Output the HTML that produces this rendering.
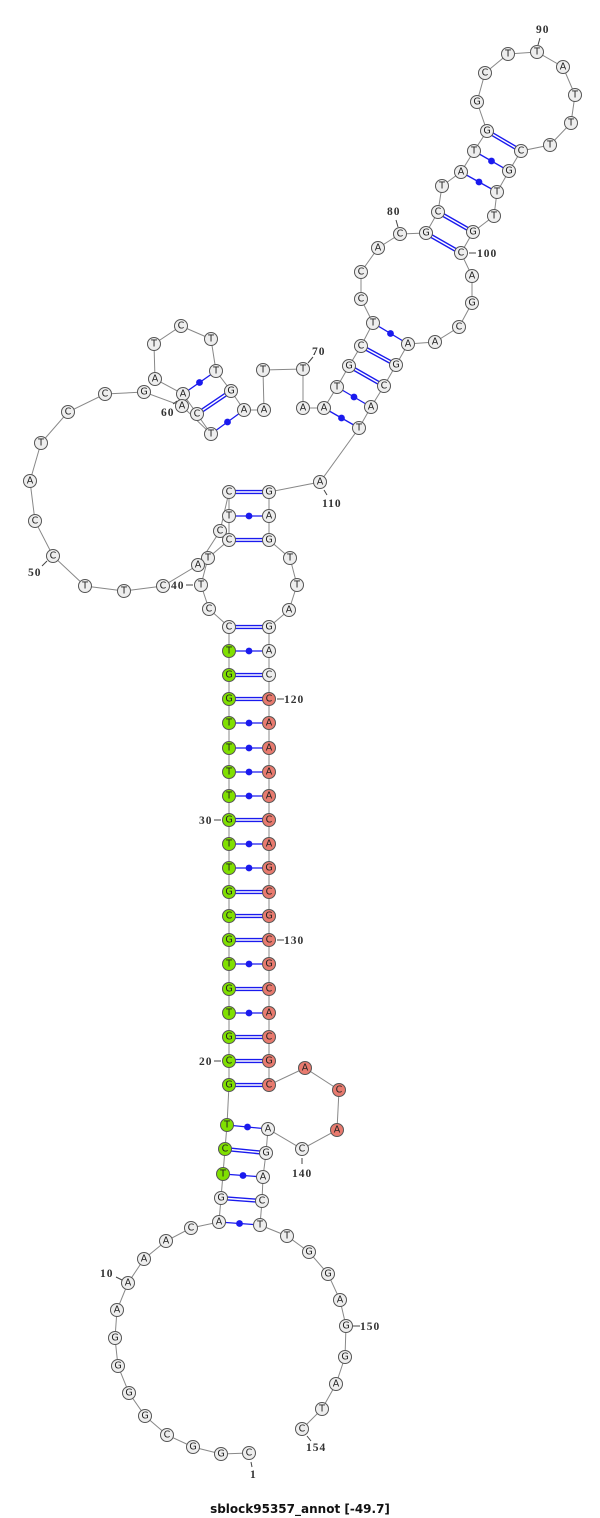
<!DOCTYPE html>
<html><head><meta charset="utf-8"><style>
html,body{margin:0;padding:0;background:#fff;}
svg{display:block}
.n circle{stroke:#555;stroke-width:1}
.n text{font-family:"DejaVu Sans","Liberation Sans",sans-serif;font-size:9.5px;fill:#222;text-anchor:middle;dominant-baseline:central}
.lb{font-family:"Liberation Serif",serif;font-weight:bold;font-size:11.5px;fill:#333;letter-spacing:1px}
</style></head><body>
<svg width="600" height="1518" viewBox="0 0 600 1518" xmlns="http://www.w3.org/2000/svg">
<polyline fill="none" stroke="#888" stroke-width="1" points="249,1453 221,1454 193,1447 167,1435 145,1416 129,1393 118,1366 115,1338 117,1310 128,1283 144,1259 166,1241 191,1228 219,1222 221,1198 223,1174 225,1149 227,1125 229,1085 229,1061 229,1037 229,1013 229,989 229,964 229,940 229,916 229,892 229,868 229,844 229,820 229,796 229,772 229,748 229,723 229,699 229,675 229,651 229,627 209,609 201,585 208,558 229,540 229,516 229,492 220,531 198,565 163,586 124,591 85,586 53,556 35,521 30,481 41,443 68,412 105,394 144,392 182,406 211,434 197,414 183,394 155,379 154,344 181,326 211,339 216,371 231,391 244,410 264,410 263,370 303,369 303,408 324,408 337,387 349,366 361,346 373,323 361,299 361,272 378,248 400,234 426,233 438,212 442,186 461,172 474,151 487,131 477,102 485,73 508,54 537,52 563,67 575,95 571,123 550,145 521,151 509,171 497,192 494,216 473,232 461,253 472,276 472,303 459,327 435,342 408,344 396,365 384,386 371,407 359,428 320,482 269,492 269,516 269,540 290,558 297,585 289,610 269,627 269,651 269,675 269,699 269,723 269,748 269,772 269,796 269,820 269,844 269,868 269,892 269,916 269,940 269,964 269,989 269,1013 269,1037 269,1061 269,1085 305,1068 339,1090 337,1130 302,1149 268,1129 266,1153 263,1177 262,1201 260,1225 287,1236 309,1252 328,1274 340,1300 346,1326 345,1357 336,1384 322,1409 302,1429"/>
<!-- double pairs -->
<g stroke="#1a1aee" stroke-width="4.2">
<line x1="221" y1="1198" x2="262" y2="1201"/><line x1="225" y1="1149" x2="266" y2="1153"/>
<line x1="229" y1="1085" x2="269" y2="1085"/><line x1="229" y1="1061" x2="269" y2="1061"/><line x1="229" y1="1037" x2="269" y2="1037"/><line x1="229" y1="989" x2="269" y2="989"/><line x1="229" y1="940" x2="269" y2="940"/><line x1="229" y1="916" x2="269" y2="916"/><line x1="229" y1="892" x2="269" y2="892"/><line x1="229" y1="820" x2="269" y2="820"/><line x1="229" y1="699" x2="269" y2="699"/><line x1="229" y1="675" x2="269" y2="675"/><line x1="229" y1="627" x2="269" y2="627"/><line x1="229" y1="540" x2="269" y2="540"/><line x1="229" y1="492" x2="269" y2="492"/>
<line x1="197" y1="414" x2="231" y2="391"/><line x1="349" y1="366" x2="384" y2="386"/><line x1="361" y1="346" x2="396" y2="365"/><line x1="426" y1="233" x2="461" y2="253"/><line x1="438" y1="212" x2="473" y2="232"/><line x1="487" y1="131" x2="521" y2="151"/>
</g>
<g stroke="#fff" stroke-width="1.4">
<line x1="221" y1="1198" x2="262" y2="1201"/><line x1="225" y1="1149" x2="266" y2="1153"/>
<line x1="229" y1="1085" x2="269" y2="1085"/><line x1="229" y1="1061" x2="269" y2="1061"/><line x1="229" y1="1037" x2="269" y2="1037"/><line x1="229" y1="989" x2="269" y2="989"/><line x1="229" y1="940" x2="269" y2="940"/><line x1="229" y1="916" x2="269" y2="916"/><line x1="229" y1="892" x2="269" y2="892"/><line x1="229" y1="820" x2="269" y2="820"/><line x1="229" y1="699" x2="269" y2="699"/><line x1="229" y1="675" x2="269" y2="675"/><line x1="229" y1="627" x2="269" y2="627"/><line x1="229" y1="540" x2="269" y2="540"/><line x1="229" y1="492" x2="269" y2="492"/>
<line x1="197" y1="414" x2="231" y2="391"/><line x1="349" y1="366" x2="384" y2="386"/><line x1="361" y1="346" x2="396" y2="365"/><line x1="426" y1="233" x2="461" y2="253"/><line x1="438" y1="212" x2="473" y2="232"/><line x1="487" y1="131" x2="521" y2="151"/>
</g>
<!-- dot pairs -->
<g stroke="#1a1aee" stroke-width="1.3">
<line x1="219" y1="1222" x2="260" y2="1225"/><line x1="223" y1="1174" x2="263" y2="1177"/><line x1="227" y1="1125" x2="268" y2="1129"/>
<line x1="229" y1="1013" x2="269" y2="1013"/><line x1="229" y1="964" x2="269" y2="964"/><line x1="229" y1="868" x2="269" y2="868"/><line x1="229" y1="844" x2="269" y2="844"/><line x1="229" y1="796" x2="269" y2="796"/><line x1="229" y1="772" x2="269" y2="772"/><line x1="229" y1="748" x2="269" y2="748"/><line x1="229" y1="723" x2="269" y2="723"/><line x1="229" y1="651" x2="269" y2="651"/><line x1="229" y1="516" x2="269" y2="516"/>
<line x1="211" y1="434" x2="244" y2="410"/><line x1="183" y1="394" x2="216" y2="371"/><line x1="324" y1="408" x2="359" y2="428"/><line x1="337" y1="387" x2="371" y2="407"/><line x1="373" y1="323" x2="408" y2="344"/><line x1="474" y1="151" x2="509" y2="171"/><line x1="461" y1="172" x2="497" y2="192"/>
</g>
<g fill="#1a1aee">
<circle cx="239.5" cy="1223.5" r="3.4"/><circle cx="243" cy="1175.5" r="3.4"/><circle cx="247.5" cy="1127" r="3.4"/>
<circle cx="249" cy="1013" r="3.4"/><circle cx="249" cy="964" r="3.4"/><circle cx="249" cy="868" r="3.4"/><circle cx="249" cy="844" r="3.4"/><circle cx="249" cy="796" r="3.4"/><circle cx="249" cy="772" r="3.4"/><circle cx="249" cy="748" r="3.4"/><circle cx="249" cy="723" r="3.4"/><circle cx="249" cy="651" r="3.4"/><circle cx="249" cy="516" r="3.4"/>
<circle cx="227.5" cy="422" r="3.4"/><circle cx="199.5" cy="382.5" r="3.4"/><circle cx="341.5" cy="418" r="3.4"/><circle cx="354" cy="397" r="3.4"/><circle cx="390.5" cy="333.5" r="3.4"/><circle cx="491.5" cy="161" r="3.4"/><circle cx="479" cy="182" r="3.4"/>
</g>
<g class="n" fill="#eee">
<g><circle cx="249" cy="1453" r="6.5"/><text x="249" y="1453">C</text></g>
<g><circle cx="221" cy="1454" r="6.5"/><text x="221" y="1454">G</text></g>
<g><circle cx="193" cy="1447" r="6.5"/><text x="193" y="1447">G</text></g>
<g><circle cx="167" cy="1435" r="6.5"/><text x="167" y="1435">C</text></g>
<g><circle cx="145" cy="1416" r="6.5"/><text x="145" y="1416">G</text></g>
<g><circle cx="129" cy="1393" r="6.5"/><text x="129" y="1393">G</text></g>
<g><circle cx="118" cy="1366" r="6.5"/><text x="118" y="1366">G</text></g>
<g><circle cx="115" cy="1338" r="6.5"/><text x="115" y="1338">G</text></g>
<g><circle cx="117" cy="1310" r="6.5"/><text x="117" y="1310">A</text></g>
<g><circle cx="128" cy="1283" r="6.5"/><text x="128" y="1283">A</text></g>
<g><circle cx="144" cy="1259" r="6.5"/><text x="144" y="1259">A</text></g>
<g><circle cx="166" cy="1241" r="6.5"/><text x="166" y="1241">A</text></g>
<g><circle cx="191" cy="1228" r="6.5"/><text x="191" y="1228">C</text></g>
<g><circle cx="219" cy="1222" r="6.5"/><text x="219" y="1222">A</text></g>
<g><circle cx="221" cy="1198" r="6.5"/><text x="221" y="1198">G</text></g>
<g fill="#80e000"><circle cx="223" cy="1174" r="6.5"/><text x="223" y="1174">T</text><circle cx="225" cy="1149" r="6.5"/><text x="225" y="1149">C</text><circle cx="227" cy="1125" r="6.5"/><text x="227" y="1125">T</text>
<circle cx="229" cy="1085" r="6.5"/><text x="229" y="1085">G</text>
<circle cx="229" cy="1061" r="6.5"/><text x="229" y="1061">C</text>
<circle cx="229" cy="1037" r="6.5"/><text x="229" y="1037">G</text>
<circle cx="229" cy="1013" r="6.5"/><text x="229" y="1013">T</text>
<circle cx="229" cy="989" r="6.5"/><text x="229" y="989">G</text>
<circle cx="229" cy="964" r="6.5"/><text x="229" y="964">T</text>
<circle cx="229" cy="940" r="6.5"/><text x="229" y="940">G</text>
<circle cx="229" cy="916" r="6.5"/><text x="229" y="916">C</text>
<circle cx="229" cy="892" r="6.5"/><text x="229" y="892">G</text>
<circle cx="229" cy="868" r="6.5"/><text x="229" y="868">T</text>
<circle cx="229" cy="844" r="6.5"/><text x="229" y="844">T</text>
<circle cx="229" cy="820" r="6.5"/><text x="229" y="820">G</text>
<circle cx="229" cy="796" r="6.5"/><text x="229" y="796">T</text>
<circle cx="229" cy="772" r="6.5"/><text x="229" y="772">T</text>
<circle cx="229" cy="748" r="6.5"/><text x="229" y="748">T</text>
<circle cx="229" cy="723" r="6.5"/><text x="229" y="723">T</text>
<circle cx="229" cy="699" r="6.5"/><text x="229" y="699">G</text>
<circle cx="229" cy="675" r="6.5"/><text x="229" y="675">G</text>
<circle cx="229" cy="651" r="6.5"/><text x="229" y="651">T</text></g>
<g><circle cx="229" cy="627" r="6.5"/><text x="229" y="627">C</text></g>
<g><circle cx="209" cy="609" r="6.5"/><text x="209" y="609">C</text></g>
<g><circle cx="201" cy="585" r="6.5"/><text x="201" y="585">T</text></g>
<g><circle cx="208" cy="558" r="6.5"/><text x="208" y="558">T</text></g>
<g><circle cx="220" cy="531" r="6.5"/><text x="220" y="531">C</text></g>
<g><circle cx="229" cy="540" r="6.5"/><text x="229" y="540">C</text></g>
<g><circle cx="229" cy="516" r="6.5"/><text x="229" y="516">T</text></g>
<g><circle cx="229" cy="492" r="6.5"/><text x="229" y="492">C</text></g>
<g><circle cx="198" cy="565" r="6.5"/><text x="198" y="565">A</text></g>
<g><circle cx="163" cy="586" r="6.5"/><text x="163" y="586">C</text></g>
<g><circle cx="124" cy="591" r="6.5"/><text x="124" y="591">T</text></g>
<g><circle cx="85" cy="586" r="6.5"/><text x="85" y="586">T</text></g>
<g><circle cx="53" cy="556" r="6.5"/><text x="53" y="556">C</text></g>
<g><circle cx="35" cy="521" r="6.5"/><text x="35" y="521">C</text></g>
<g><circle cx="30" cy="481" r="6.5"/><text x="30" y="481">A</text></g>
<g><circle cx="41" cy="443" r="6.5"/><text x="41" y="443">T</text></g>
<g><circle cx="68" cy="412" r="6.5"/><text x="68" y="412">C</text></g>
<g><circle cx="105" cy="394" r="6.5"/><text x="105" y="394">C</text></g>
<g><circle cx="144" cy="392" r="6.5"/><text x="144" y="392">G</text></g>
<g><circle cx="183" cy="394" r="6.5"/><text x="183" y="394">A</text></g>
<g><circle cx="182" cy="406" r="6.5"/><text x="182" y="406">A</text></g>
<g><circle cx="211" cy="434" r="6.5"/><text x="211" y="434">T</text></g>
<g><circle cx="197" cy="414" r="6.5"/><text x="197" y="414">C</text></g>
<g><circle cx="155" cy="379" r="6.5"/><text x="155" y="379">A</text></g>
<g><circle cx="154" cy="344" r="6.5"/><text x="154" y="344">T</text></g>
<g><circle cx="181" cy="326" r="6.5"/><text x="181" y="326">C</text></g>
<g><circle cx="211" cy="339" r="6.5"/><text x="211" y="339">T</text></g>
<g><circle cx="216" cy="371" r="6.5"/><text x="216" y="371">T</text></g>
<g><circle cx="231" cy="391" r="6.5"/><text x="231" y="391">G</text></g>
<g><circle cx="244" cy="410" r="6.5"/><text x="244" y="410">A</text></g>
<g><circle cx="264" cy="410" r="6.5"/><text x="264" y="410">A</text></g>
<g><circle cx="263" cy="370" r="6.5"/><text x="263" y="370">T</text></g>
<g><circle cx="303" cy="369" r="6.5"/><text x="303" y="369">T</text></g>
<g><circle cx="303" cy="408" r="6.5"/><text x="303" y="408">A</text></g>
<g><circle cx="324" cy="408" r="6.5"/><text x="324" y="408">A</text></g>
<g><circle cx="337" cy="387" r="6.5"/><text x="337" y="387">T</text></g>
<g><circle cx="349" cy="366" r="6.5"/><text x="349" y="366">G</text></g>
<g><circle cx="361" cy="346" r="6.5"/><text x="361" y="346">C</text></g>
<g><circle cx="373" cy="323" r="6.5"/><text x="373" y="323">T</text></g>
<g><circle cx="361" cy="299" r="6.5"/><text x="361" y="299">C</text></g>
<g><circle cx="361" cy="272" r="6.5"/><text x="361" y="272">C</text></g>
<g><circle cx="378" cy="248" r="6.5"/><text x="378" y="248">A</text></g>
<g><circle cx="400" cy="234" r="6.5"/><text x="400" y="234">C</text></g>
<g><circle cx="426" cy="233" r="6.5"/><text x="426" y="233">G</text></g>
<g><circle cx="438" cy="212" r="6.5"/><text x="438" y="212">C</text></g>
<g><circle cx="442" cy="186" r="6.5"/><text x="442" y="186">T</text></g>
<g><circle cx="461" cy="172" r="6.5"/><text x="461" y="172">A</text></g>
<g><circle cx="474" cy="151" r="6.5"/><text x="474" y="151">T</text></g>
<g><circle cx="487" cy="131" r="6.5"/><text x="487" y="131">G</text></g>
<g><circle cx="477" cy="102" r="6.5"/><text x="477" y="102">G</text></g>
<g><circle cx="485" cy="73" r="6.5"/><text x="485" y="73">C</text></g>
<g><circle cx="508" cy="54" r="6.5"/><text x="508" y="54">T</text></g>
<g><circle cx="537" cy="52" r="6.5"/><text x="537" y="52">T</text></g>
<g><circle cx="563" cy="67" r="6.5"/><text x="563" y="67">A</text></g>
<g><circle cx="575" cy="95" r="6.5"/><text x="575" y="95">T</text></g>
<g><circle cx="571" cy="123" r="6.5"/><text x="571" y="123">T</text></g>
<g><circle cx="550" cy="145" r="6.5"/><text x="550" y="145">T</text></g>
<g><circle cx="521" cy="151" r="6.5"/><text x="521" y="151">C</text></g>
<g><circle cx="509" cy="171" r="6.5"/><text x="509" y="171">G</text></g>
<g><circle cx="497" cy="192" r="6.5"/><text x="497" y="192">T</text></g>
<g><circle cx="494" cy="216" r="6.5"/><text x="494" y="216">T</text></g>
<g><circle cx="473" cy="232" r="6.5"/><text x="473" y="232">G</text></g>
<g><circle cx="461" cy="253" r="6.5"/><text x="461" y="253">C</text></g>
<g><circle cx="472" cy="276" r="6.5"/><text x="472" y="276">A</text></g>
<g><circle cx="472" cy="303" r="6.5"/><text x="472" y="303">G</text></g>
<g><circle cx="459" cy="327" r="6.5"/><text x="459" y="327">C</text></g>
<g><circle cx="435" cy="342" r="6.5"/><text x="435" y="342">A</text></g>
<g><circle cx="408" cy="344" r="6.5"/><text x="408" y="344">A</text></g>
<g><circle cx="396" cy="365" r="6.5"/><text x="396" y="365">G</text></g>
<g><circle cx="384" cy="386" r="6.5"/><text x="384" y="386">C</text></g>
<g><circle cx="371" cy="407" r="6.5"/><text x="371" y="407">A</text></g>
<g><circle cx="359" cy="428" r="6.5"/><text x="359" y="428">T</text></g>
<g><circle cx="320" cy="482" r="6.5"/><text x="320" y="482">A</text></g>
<g><circle cx="269" cy="492" r="6.5"/><text x="269" y="492">G</text></g>
<g><circle cx="269" cy="516" r="6.5"/><text x="269" y="516">A</text></g>
<g><circle cx="269" cy="540" r="6.5"/><text x="269" y="540">G</text></g>
<g><circle cx="290" cy="558" r="6.5"/><text x="290" y="558">T</text></g>
<g><circle cx="297" cy="585" r="6.5"/><text x="297" y="585">T</text></g>
<g><circle cx="289" cy="610" r="6.5"/><text x="289" y="610">A</text></g>
<g><circle cx="269" cy="627" r="6.5"/><text x="269" y="627">G</text></g>
<g><circle cx="269" cy="651" r="6.5"/><text x="269" y="651">A</text></g>
<g><circle cx="269" cy="675" r="6.5"/><text x="269" y="675">C</text></g>
<g fill="#e87a6e">
<circle cx="269" cy="699" r="6.5"/><text x="269" y="699">C</text>
<circle cx="269" cy="723" r="6.5"/><text x="269" y="723">A</text>
<circle cx="269" cy="748" r="6.5"/><text x="269" y="748">A</text>
<circle cx="269" cy="772" r="6.5"/><text x="269" y="772">A</text>
<circle cx="269" cy="796" r="6.5"/><text x="269" y="796">A</text>
<circle cx="269" cy="820" r="6.5"/><text x="269" y="820">C</text>
<circle cx="269" cy="844" r="6.5"/><text x="269" y="844">A</text>
<circle cx="269" cy="868" r="6.5"/><text x="269" y="868">G</text>
<circle cx="269" cy="892" r="6.5"/><text x="269" y="892">C</text>
<circle cx="269" cy="916" r="6.5"/><text x="269" y="916">G</text>
<circle cx="269" cy="940" r="6.5"/><text x="269" y="940">C</text>
<circle cx="269" cy="964" r="6.5"/><text x="269" y="964">G</text>
<circle cx="269" cy="989" r="6.5"/><text x="269" y="989">C</text>
<circle cx="269" cy="1013" r="6.5"/><text x="269" y="1013">A</text>
<circle cx="269" cy="1037" r="6.5"/><text x="269" y="1037">C</text>
<circle cx="269" cy="1061" r="6.5"/><text x="269" y="1061">G</text>
<circle cx="269" cy="1085" r="6.5"/><text x="269" y="1085">C</text>
<circle cx="305" cy="1068" r="6.5"/><text x="305" y="1068">A</text>
<circle cx="339" cy="1090" r="6.5"/><text x="339" y="1090">C</text>
<circle cx="337" cy="1130" r="6.5"/><text x="337" y="1130">A</text></g>
<g><circle cx="302" cy="1149" r="6.5"/><text x="302" y="1149">C</text></g>
<g><circle cx="268" cy="1129" r="6.5"/><text x="268" y="1129">A</text></g>
<g><circle cx="266" cy="1153" r="6.5"/><text x="266" y="1153">G</text></g>
<g><circle cx="263" cy="1177" r="6.5"/><text x="263" y="1177">A</text></g>
<g><circle cx="262" cy="1201" r="6.5"/><text x="262" y="1201">C</text></g>
<g><circle cx="260" cy="1225" r="6.5"/><text x="260" y="1225">T</text></g>
<g><circle cx="287" cy="1236" r="6.5"/><text x="287" y="1236">T</text></g>
<g><circle cx="309" cy="1252" r="6.5"/><text x="309" y="1252">G</text></g>
<g><circle cx="328" cy="1274" r="6.5"/><text x="328" y="1274">G</text></g>
<g><circle cx="340" cy="1300" r="6.5"/><text x="340" y="1300">A</text></g>
<g><circle cx="346" cy="1326" r="6.5"/><text x="346" y="1326">G</text></g>
<g><circle cx="345" cy="1357" r="6.5"/><text x="345" y="1357">G</text></g>
<g><circle cx="336" cy="1384" r="6.5"/><text x="336" y="1384">A</text></g>
<g><circle cx="322" cy="1409" r="6.5"/><text x="322" y="1409">T</text></g>
<g><circle cx="302" cy="1429" r="6.5"/><text x="302" y="1429">C</text></g>
</g>
<!-- labels -->
<g stroke="#444" stroke-width="1">
<line x1="540" y1="38" x2="538" y2="45"/><line x1="396" y1="220" x2="398" y2="227"/><line x1="469" y1="253" x2="476" y2="253"/>
<line x1="313" y1="357" x2="308" y2="363"/><line x1="173" y1="404" x2="177" y2="401"/><line x1="42" y1="566" x2="47" y2="561"/>
<line x1="186" y1="585" x2="193" y2="585"/><line x1="324" y1="490" x2="327" y2="495"/><line x1="277" y1="699" x2="284" y2="699"/>
<line x1="214" y1="820" x2="221" y2="820"/><line x1="277" y1="940" x2="284" y2="940"/><line x1="214" y1="1061" x2="221" y2="1061"/>
<line x1="302" y1="1158" x2="302" y2="1164"/><line x1="116" y1="1277" x2="122" y2="1280"/><line x1="353" y1="1326" x2="360" y2="1326"/>
<line x1="307" y1="1436" x2="311" y2="1441"/><line x1="251" y1="1462" x2="252" y2="1467"/>
</g>
<g class="lb">
<text x="536" y="33">90</text><text x="387" y="215">80</text><text x="477" y="257">100</text>
<text x="312" y="355">70</text><text x="161" y="416">60</text><text x="28" y="576">50</text>
<text x="171" y="589">40</text><text x="322" y="507">110</text><text x="284" y="703">120</text>
<text x="199" y="824">30</text><text x="284" y="944">130</text><text x="199" y="1065">20</text>
<text x="292" y="1177">140</text><text x="100" y="1277">10</text><text x="360" y="1330">150</text>
<text x="306" y="1451">154</text><text x="250" y="1478">1</text>
</g>
<text x="300" y="1513" text-anchor="middle" font-family="'DejaVu Sans','Liberation Sans',sans-serif" font-weight="bold" font-size="12" fill="#111">sblock95357_annot [-49.7]</text>
</svg>
</body></html>
